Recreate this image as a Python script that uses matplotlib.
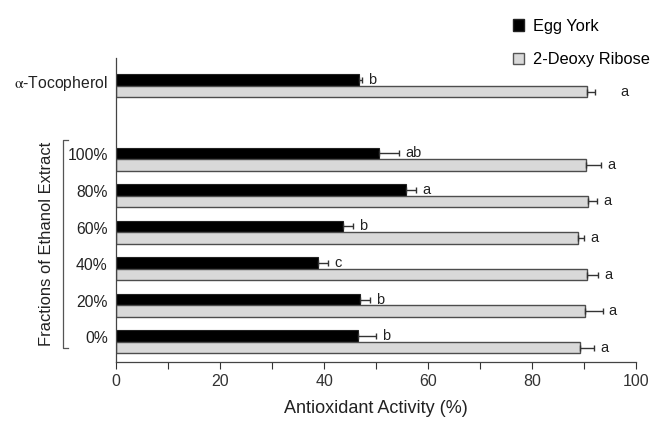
import numpy as np
import matplotlib.pyplot as plt
from matplotlib.lines import Line2D
from matplotlib.patches import Patch
from matplotlib.transforms import blended_transform_factory

plt.rcParams['font.family'] = ['Liberation Sans', 'DejaVu Sans']
plt.rcParams['mathtext.fontset'] = 'stix'

groups = ['0%', '20%', '40%', '60%', '80%', '100%', r'$\mathrm{\alpha}$-Tocopherol']
pos = np.array([0, 1, 2, 3, 4, 5, 7])
egg = [46.5, 46.9, 38.8, 43.6, 55.7, 50.5, 46.7]
egg_err = [3.4, 1.9, 1.9, 1.9, 1.9, 3.9, 0.5]
egg_sig = ['b', 'b', 'c', 'b', 'a', 'ab', 'b']
deoxy = [89.1, 90.1, 90.5, 88.7, 90.7, 90.3, 90.5]
deoxy_err = [2.8, 3.4, 2.1, 1.2, 1.7, 3.0, 1.5]
deoxy_sig = ['a', 'a', 'a', 'a', 'a', 'a', 'a']

h = 0.315  # bar thickness

fig = plt.figure(figsize=(6.52, 4.21), dpi=100)
ax = fig.add_axes([0.178, 0.140, 0.798, 0.722])

zero = np.zeros(len(pos))
ax.barh(pos + h/2, egg, height=h, color='black', edgecolor='#222222', lw=0.8,
        xerr=[zero, egg_err], error_kw=dict(ecolor='#333333', elinewidth=1, capsize=2.5, capthick=1))
ax.barh(pos - h/2, deoxy, height=h, color='#d9d9d9', edgecolor='#4d4d4d', lw=1,
        xerr=[zero, deoxy_err], error_kw=dict(ecolor='#333333', elinewidth=1, capsize=2.5, capthick=1))

# significance letters
for i in range(len(pos)):
    ax.text(egg[i] + egg_err[i] + 1.2, pos[i] + h/2, egg_sig[i], va='center', ha='left', fontsize=10.5, color='#222222')
    pad = 5.0 if i == len(pos) - 1 else 1.2
    ax.text(deoxy[i] + deoxy_err[i] + pad, pos[i] - h/2, deoxy_sig[i], va='center', ha='left', fontsize=10.5, color='#222222')

ax.set_xlim(0, 100)
ax.set_ylim(-0.55, 7.76)
ax.set_xticks(np.arange(0, 101, 20))
ax.set_xticks(np.arange(10, 100, 20), minor=True)
ax.tick_params(axis='x', which='both', direction='out', length=5, width=0.8, labelsize=11.5, colors='#333333')
ax.set_yticks(pos + 0.4*h)
ax.set_yticklabels(groups, fontsize=11.3, color='#222222')
ax.tick_params(axis='y', length=0, pad=6)
for s in ['top', 'right']:
    ax.spines[s].set_visible(False)
for s in ['left', 'bottom']:
    ax.spines[s].set_color('#444444')
    ax.spines[s].set_linewidth(0.9)
ax.set_xlabel('Antioxidant Activity (%)', fontsize=13, color='#222222', labelpad=8)

# bracket for ethanol fractions
tr = blended_transform_factory(fig.transFigure, ax.transData)
frac = pos[:6]
yb, yt = frac.min() - 0.17, frac.max() + 0.52
x0, x1 = 63/652, 68/652
ax.add_line(Line2D([x1, x0, x0, x1], [yt, yt, yb, yb], transform=tr, color='#555555', lw=0.9, clip_on=False))
ax.text(47/652, (yb + yt)/2, 'Fractions of Ethanol Extract', transform=tr, rotation=90,
        ha='center', va='center', fontsize=11.9, color='#222222')

handles = [Patch(facecolor='black', edgecolor='#222222', label='Egg York'),
           Patch(facecolor='#d9d9d9', edgecolor='#555555', label='2-Deoxy Ribose')]
fig.legend(handles=handles, loc='upper left', bbox_to_anchor=(506/652, 1 - 12/421), frameon=False,
           fontsize=11.8, handlelength=0.7, handleheight=0.7, handletextpad=0.55, labelspacing=1.15,
           borderaxespad=0)

plt.savefig('out.png', dpi=100)
